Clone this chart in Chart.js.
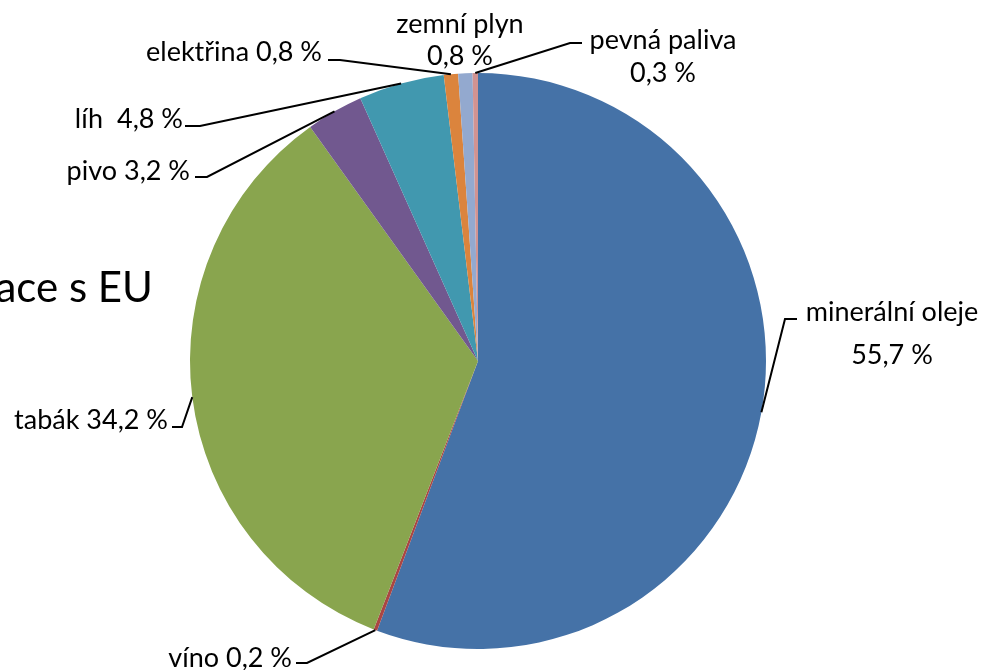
<!DOCTYPE html>
<html lang="cs">
<head>
<meta charset="utf-8">
<title>Spotřební daně</title>
<script src="https://cdn.jsdelivr.net/npm/chart.js@4.4.0/dist/chart.umd.min.js"></script>
<style>
  html, body { margin: 0; padding: 0; background: #ffffff; }
  #wrap { position: relative; width: 995px; height: 670px; overflow: hidden; }
</style>
</head>
<body>
<div id="wrap"><canvas id="pieChart" width="995" height="670"></canvas></div>
<script>
const categories = ['minerální oleje', 'víno', 'tabák', 'pivo', 'líh', 'elektřina', 'zemní plyn', 'pevná paliva'];
const shares = [55.7, 0.2, 34.2, 3.2, 4.8, 0.8, 0.8, 0.3];
const valueLabels = ['55,7 %', '0,2 %', '34,2 %', '3,2 %', '4,8 %', '0,8 %', '0,8 %', '0,3 %'];
const sliceColors = ['#4572A7', '#AA4643', '#89A54E', '#71588F', '#4198AF', '#DB843D', '#93A9CF', '#D19392'];

const FONT = 'Lato, "Open Sans", sans-serif';

// label placement: text lines, anchor and elbow of the leader line
const labelLayout = [
  { lines: ['minerální oleje', '55,7 %'], x: 892, y: [312, 355], align: 'center', leader: [[797, 319], [785, 319]] },
  { lines: ['víno 0,2 %'], x: 292, y: [658], align: 'right', leader: [[296, 663], [307, 663]] },
  { lines: ['tabák 34,2 %'], x: 168, y: [420], align: 'right', leader: [[172, 427], [182, 427]] },
  { lines: ['pivo 3,2 %'], x: 190, y: [171], align: 'right', leader: [[195, 177], [207, 177]] },
  { lines: ['líh  4,8 %'], x: 183, y: [119], align: 'right', leader: [[185, 126], [200, 126]] },
  { lines: ['elektřina 0,8 %'], x: 322, y: [52], align: 'right', leader: [[328, 60], [340, 60]] },
  { lines: ['zemní plyn', '0,8 %'], x: 460, y: [24, 56], align: 'center', leader: null },
  { lines: ['pevná paliva', '0,3 %'], x: 663, y: [40, 73], align: 'center', leader: [[582, 43], [570, 43]] },
];

const leaderLabels = {
  id: 'leaderLabels',
  afterDatasetsDraw(chart) {
    const ctx = chart.ctx;
    const arcs = chart.getDatasetMeta(0).data;

    ctx.save();
    // cut-off slide title behind the chart
    ctx.fillStyle = '#000000';
    ctx.font = `42px ${FONT}`;
    ctx.textAlign = 'right';
    ctx.textBaseline = 'alphabetic';
    ctx.fillText('Harmonizace s EU', 153, 302);

    ctx.strokeStyle = '#000000';
    ctx.lineWidth = 2;
    labelLayout.forEach((label, i) => {
      const arc = arcs[i];
      if (label.leader && arc) {
        const mid = (arc.startAngle + arc.endAngle) / 2;
        const px = arc.x + Math.cos(mid) * arc.outerRadius;
        const py = arc.y + Math.sin(mid) * arc.outerRadius;
        ctx.beginPath();
        ctx.moveTo(label.leader[0][0], label.leader[0][1]);
        ctx.lineTo(label.leader[1][0], label.leader[1][1]);
        ctx.lineTo(px, py);
        ctx.stroke();
      }

      ctx.font = `27px ${FONT}`;
      ctx.textAlign = label.align;
      ctx.textBaseline = 'middle';
      label.lines.forEach((line, k) => {
        ctx.fillText(line, label.x, label.y[k]);
      });
    });
    ctx.restore();
  },
};

function initChart() {
  const context = document.getElementById('pieChart').getContext('2d');
  return new Chart(context, {
    type: 'pie',
    data: {
      labels: categories,
      datasets: [
        {
          data: shares,
          backgroundColor: sliceColors,
          borderColor: '#ffffff',
          borderWidth: 0,
        },
      ],
    },
    options: {
      responsive: false,
      animation: false,
      layout: {
        padding: { left: 190, right: 229, top: 73, bottom: 21 },
      },
      plugins: {
        legend: { display: false },
        tooltip: { enabled: false },
      },
    },
    plugins: [leaderLabels],
  });
}

document.addEventListener('DOMContentLoaded', () => {
  initChart();
});
</script>
</body>
</html>
